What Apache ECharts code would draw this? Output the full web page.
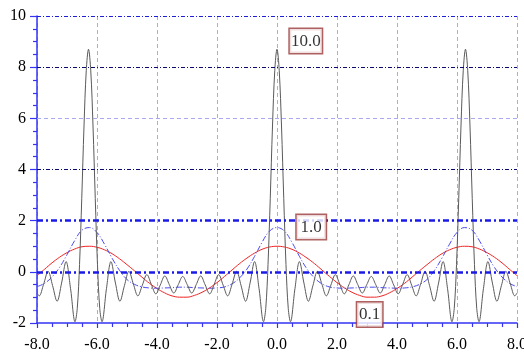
<!DOCTYPE html>
<html>
<head>
<meta charset="utf-8">
<script src="https://cdn.jsdelivr.net/npm/echarts@6/dist/echarts.min.js"></script>
<style>
  html, body { margin: 0; padding: 0; background: #ffffff; }
  #chart { width: 524px; height: 354px; }
</style>
</head>
<body>
<div id="chart"></div>
<script>
// Partial sum with 10 harmonics (black)
const blackX = [
  -8, -7.928, -7.779, -7.629, -7.480, -7.330, -7.181, -7.031, -6.881, -6.732, -6.658, -6.582, -6.508, -6.433, -6.358,
  -6.283, -6.208, -6.133, -6.058, -5.984, -5.908, -5.834, -5.685, -5.535, -5.385, -5.236, -5.086, -4.937, -4.787,
  -4.638, -4.488, -4.338, -4.189, -4.039, -3.889, -3.740, -3.590, -3.441, -3.291, -3.142, -2.992, -2.842, -2.693,
  -2.543, -2.394, -2.244, -2.094, -1.945, -1.795, -1.645, -1.496, -1.346, -1.197, -1.047, -0.898, -0.748, -0.598,
  -0.449, -0.375, -0.299, -0.225, -0.150, -0.075, 0, 0.075, 0.150, 0.225, 0.299, 0.375, 0.449, 0.598, 0.748, 0.898,
  1.047, 1.197, 1.346, 1.496, 1.645, 1.795, 1.945, 2.094, 2.244, 2.394, 2.543, 2.693, 2.842, 2.992, 3.142, 3.291,
  3.441, 3.590, 3.740, 3.889, 4.039, 4.189, 4.338, 4.488, 4.638, 4.787, 4.937, 5.086, 5.236, 5.385, 5.535, 5.685,
  5.834, 5.908, 5.984, 6.058, 6.133, 6.208, 6.283, 6.358, 6.433, 6.508, 6.582, 6.658, 6.732, 6.881, 7.031, 7.181,
  7.330, 7.480, 7.629, 7.779, 7.928, 8
];
const blackY = [
  -0.83, -0.94, -0.48, 0.02, -0.54, -1.15, -0.44, 0.40, -0.66, -1.95, -1.43, 0.29, 2.87, 5.70, 7.86,
  8.70, 7.86, 5.70, 2.87, 0.29, -1.43, -1.95, -0.66, 0.40, -0.44, -1.15, -0.54, 0.02, -0.48,
  -0.94, -0.52, -0.11, -0.49, -0.86, -0.51, -0.16, -0.50, -0.83, -0.50, -0.18, -0.50, -0.83, -0.50,
  -0.16, -0.51, -0.86, -0.49, -0.11, -0.52, -0.94, -0.48, 0.02, -0.54, -1.15, -0.44, 0.40, -0.66,
  -1.95, -1.43, 0.29, 2.87, 5.70, 7.86, 8.70, 7.86, 5.70, 2.87, 0.29, -1.43, -1.95, -0.66, 0.40, -0.44,
  -1.15, -0.54, 0.02, -0.48, -0.94, -0.52, -0.11, -0.49, -0.86, -0.51, -0.16, -0.50, -0.83, -0.50, -0.18, -0.50,
  -0.83, -0.50, -0.16, -0.51, -0.86, -0.49, -0.11, -0.52, -0.94, -0.48, 0.02, -0.54, -1.15, -0.44, 0.40, -0.66,
  -1.95, -1.43, 0.29, 2.87, 5.70, 7.86, 8.70, 7.86, 5.70, 2.87, 0.29, -1.43, -1.95, -0.66, 0.40, -0.44,
  -1.15, -0.54, 0.02, -0.48, -0.94, -0.83
];

// Sample positions shared by the two smooth curves
const gridX = [
  -8, -7.75, -7.5, -7.25, -7, -6.75, -6.5, -6.25, -6, -5.75, -5.5, -5.25, -5, -4.75, -4.5, -4.25, -4,
  -3.75, -3.5, -3.25, -3, -2.75, -2.5, -2.25, -2, -1.75, -1.5, -1.25, -1, -0.75, -0.5, -0.25, 0,
  0.25, 0.5, 0.75, 1, 1.25, 1.5, 1.75, 2, 2.25, 2.5, 2.75, 3, 3.25, 3.5, 3.75, 4,
  4.25, 4.5, 4.75, 5, 5.25, 5.5, 5.75, 6, 6.25, 6.5, 6.75, 7, 7.25, 7.5, 7.75, 8
];
// Few-harmonic sum (blue, dash-dot)
const blueY = [
  -0.58, -0.45, -0.20, 0.17, 0.67, 1.21, 1.63, 1.73, 1.54, 1.08, 0.54, 0.06, -0.30, -0.49, -0.59, -0.63, -0.64,
  -0.63, -0.62, -0.60, -0.60, -0.62, -0.63, -0.64, -0.63, -0.59, -0.47, -0.24, 0.11, 0.60, 1.15, 1.59, 1.73,
  1.59, 1.15, 0.60, 0.11, -0.24, -0.47, -0.59, -0.63, -0.64, -0.63, -0.62, -0.60, -0.60, -0.62, -0.63, -0.64,
  -0.63, -0.59, -0.49, -0.30, 0.06, 0.54, 1.08, 1.54, 1.73, 1.63, 1.21, 0.67, 0.17, -0.20, -0.45, -0.58
];
// Single harmonic (red)
const redY = [
  -0.15, 0.10, 0.35, 0.57, 0.75, 0.89, 0.98, 1.00, 0.96, 0.86, 0.71, 0.51, 0.28, 0.04, -0.21, -0.45, -0.65,
  -0.82, -0.94, -0.99, -0.99, -0.92, -0.80, -0.63, -0.42, -0.18, 0.07, 0.32, 0.54, 0.73, 0.88, 0.97, 1.00,
  0.97, 0.88, 0.73, 0.54, 0.32, 0.07, -0.18, -0.42, -0.63, -0.80, -0.92, -0.99, -0.99, -0.94, -0.82, -0.65,
  -0.45, -0.21, 0.04, 0.28, 0.51, 0.71, 0.86, 0.96, 1.00, 0.98, 0.89, 0.75, 0.57, 0.35, 0.10, -0.15
];

// Horizontal reference levels and the boxed notes
const levelValues = [10, 8, 6, 4, 2, 0];
const noteTexts = ['10.0', '1.0', '0.1'];

const pairs = (xs, ys) => xs.map((x, i) => [x, ys[i]]);

const levelStyle = {
  10: { color: '#1f1fd6', width: 1.2, type: [4, 2, 1, 2] },
  8:  { color: '#0a0a70', width: 1.2, type: [4, 2, 1, 2] },
  6:  { color: '#a9a9f2', width: 1,   type: [4, 3] },
  4:  { color: '#0a0a70', width: 1.2, type: [4, 2, 1, 2] },
  2:  { color: '#1a1ae6', width: 2.6, type: [6, 3, 2, 3] },
  0:  { color: '#1a1ae6', width: 2.6, type: [6, 3, 2, 3] }
};
const noteAnchor = [[0.96, 9.02], [1.14, 1.75], [3.09, -1.67]];
const noteWidth = [30, 27, 23];

const serif = 'Liberation Serif, Times New Roman, serif';
const axisBlue = '#3434f4';

const chart = echarts.init(document.getElementById('chart'), null, { renderer: 'canvas' });
chart.setOption({
  animation: false,
  backgroundColor: '#ffffff',
  grid: { left: 37, right: 7, top: 16, bottom: 31, containLabel: false, outerBoundsMode: 'none' },
  xAxis: {
    type: 'value', min: -8, max: 8, interval: 2,
    axisLine: { show: true, onZero: false, lineStyle: { color: axisBlue, width: 1.5 } },
    axisTick: { show: true, length: 5, lineStyle: { color: axisBlue, width: 1.2 } },
    minorTick: { show: true, splitNumber: 4, length: 4, lineStyle: { color: axisBlue, width: 1.2 } },
    axisLabel: {
      margin: 14, color: '#000', fontFamily: serif, fontSize: 16,
      hideOverlap: false,
      formatter: v => v.toFixed(1)
    },
    splitLine: { show: true, lineStyle: { color: '#a9a9f2', width: 1, type: [4, 3] } }
  },
  yAxis: {
    type: 'value', min: -2, max: 10, interval: 2,
    axisLine: { show: true, onZero: false, lineStyle: { color: axisBlue, width: 1.5 } },
    axisTick: { show: true, length: 7, lineStyle: { color: axisBlue, width: 1.2 } },
    minorTick: { show: true, splitNumber: 4, length: 4, lineStyle: { color: axisBlue, width: 1.2 } },
    axisLabel: { margin: 11, color: '#000', fontFamily: serif, fontSize: 16 },
    splitLine: { show: false }
  },
  series: [
    {
      name: 'levels', type: 'line', data: [], z: 1, silent: true,
      markLine: {
        silent: true, symbol: ['none', 'none'], animation: false,
        label: { show: false },
        data: levelValues.map(v => ({ yAxis: v, lineStyle: levelStyle[v] }))
      }
    },
    {
      name: 'red', type: 'line', data: pairs(gridX, redY), z: 3,
      showSymbol: false, smooth: 0.4,
      lineStyle: { color: '#f02424', width: 1 }
    },
    {
      name: 'blue', type: 'line', data: pairs(gridX, blueY), z: 3,
      showSymbol: false, smooth: 0.4,
      lineStyle: { color: '#4a4af0', width: 1, type: [6, 2, 1, 2] }
    },
    {
      name: 'black', type: 'line', data: pairs(blackX, blackY), z: 4,
      showSymbol: false, smooth: 0.35,
      lineStyle: { color: '#5a5a5a', width: 1 }
    },
    {
      name: 'notes', type: 'scatter', z: 10, symbolSize: 0, silent: true,
      data: noteTexts.map((t, i) => ({ value: noteAnchor[i], name: t, label: { width: noteWidth[i] } })),
      label: {
        show: true, position: 'inside',
        formatter: p => p.name,
        fontFamily: serif, fontSize: 17, color: '#000',
        lineHeight: 19,
        backgroundColor: '#ffffff',
        borderColor: '#9b3a3a', borderWidth: 1.5,
        padding: [3, 1, 2, 1],
        align: 'center'
      }
    }
  ]
});
</script>
</body>
</html>
